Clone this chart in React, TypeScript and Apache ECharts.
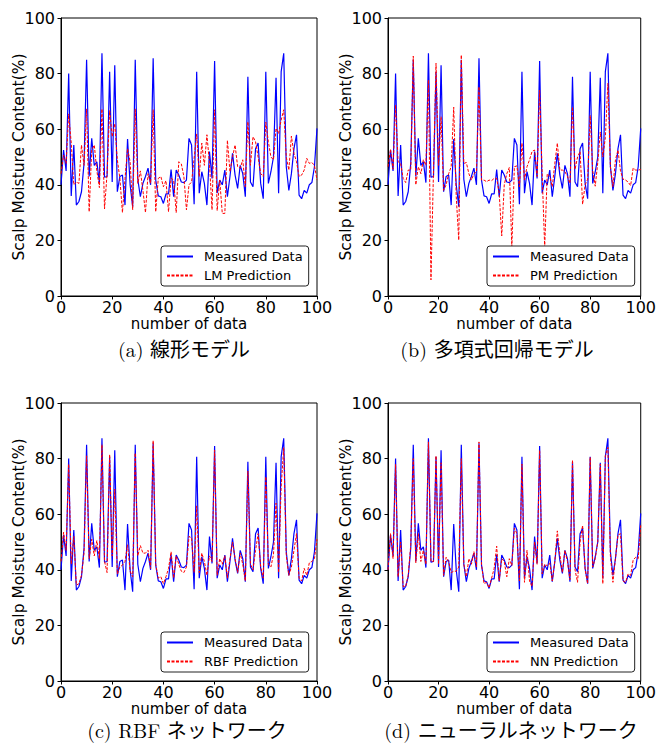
import React, { useEffect, useRef } from "react";
import * as echarts from "echarts";

const xTicks = [0, 20, 40, 60, 80, 100];
const yTicks = [0, 20, 40, 60, 80, 100];

const measured = [
  40, 52.5, 45, 80, 36, 54.3, 32.7, 34, 37.5, 47.7,
  85, 43, 56.7, 47, 48.3, 40.8, 87.3, 42.7, 43, 80.7,
  41, 83, 37.5, 43, 43.5, 32.7, 56.5, 40, 32.1, 85,
  42, 35.7, 40.5, 43, 46, 40, 85.5, 41.7, 36, 35.7,
  33.3, 36.7, 36.7, 45.5, 35.7, 45.3, 43.5, 41, 40.8, 41.7,
  56.7, 54.3, 33, 80.7, 37, 44.7, 40.5, 32.7, 52, 42.3,
  84.5, 37, 41.7, 40, 45.3, 35.7, 43, 51.3, 43.5, 38.7,
  47, 44, 35.7, 78.9, 41, 39.3, 53, 55, 40.5, 35,
  80.7, 40.5, 44.7, 50, 78.5, 37, 80.7, 87.3, 46.5, 38,
  44, 53, 58, 36.3, 35, 38, 37, 40, 40.8, 46.5, 60.3,
];

const lmPred = [
  44, 50.7, 47.7, 65.5, 55, 40, 41, 40.5, 54.3, 47,
  67.3, 30.3, 52.5, 54.3, 45, 39, 67.3, 31.3, 44, 66.7,
  57.3, 62, 49, 42.3, 30, 42.3, 53, 48.3, 31, 67.3,
  40.5, 45, 38, 30, 44, 40.5, 67, 30.3, 42.3, 43,
  39.3, 41.5, 30.3, 42.3, 41.7, 30, 48.3, 47.5, 43, 31,
  40, 41, 49.5, 58.3, 43, 55, 47, 58, 47.7, 31,
  67, 30.7, 41.7, 29.7, 29.7, 56, 44.7, 50, 54.3, 46.5,
  46, 49, 39.3, 62.7, 47, 57.3, 55.5, 50, 44, 43,
  62.5, 55.5, 50, 49, 60.3, 58.5, 63.3, 67, 50, 45.3,
  57.5, 51.3, 48.3, 43, 43.5, 45.3, 49.5, 47.7, 48, 47, 41.7,
];

const pmPred = [
  46.5, 52.8, 45.6, 68.7, 48.3, 47.7, 42.3, 40.8, 45.3, 45.3,
  86.3, 40, 46.5, 44, 49, 47, 77.7, 5.8, 45, 83.7,
  47, 64.5, 38, 40, 44, 46.5, 67.9, 35.7, 20.1, 86.7,
  47.7, 48, 44, 41.7, 44, 44.7, 75.3, 41.7, 41.7, 41.1,
  41.7, 41.5, 42.3, 42.3, 37, 21.6, 40, 44, 46.2, 17.7,
  46.5, 46.8, 39.3, 55, 41.7, 46.5, 49, 52, 52.5, 43,
  74, 44, 17.5, 44, 43, 39.3, 47.7, 55, 45.3, 45.3,
  44.7, 43, 40.5, 68, 45.5, 50, 52, 33, 40, 42,
  65, 45, 39.5, 48, 59, 50, 57, 76.5, 46.5, 39.3,
  49, 52.5, 45, 42, 41.7, 41, 39.7, 46, 45.3, 45.3, 45.5,
];

const rbfPred = [
  43, 53.5, 47, 78, 42, 52, 34.5, 35, 38, 46,
  81, 44, 51, 45, 50.5, 44, 85, 43, 39, 81.5,
  45, 69, 38.5, 41, 41.7, 43, 49, 39.5, 37.5, 82,
  45, 48.7, 46, 46, 47, 40.5, 86.5, 42, 37, 37.5,
  35, 37.5, 40.5, 46.5, 37, 45, 42, 39.5, 39, 41,
  52, 51.5, 39, 63, 39, 46, 43, 38, 45, 43,
  83, 38, 44, 42, 45, 37, 44, 50, 44, 39,
  46, 42, 36, 75.5, 42, 40, 47, 53, 41, 37,
  73.5, 42, 41, 45.5, 64, 39, 70, 84, 45, 38,
  41, 47, 53, 37, 36, 40.5, 38, 42.5, 43, 44, 51,
];

const nnPred = [
  40, 53, 44, 78, 37.5, 50, 34, 34, 38, 49,
  80, 42.5, 53, 43, 47, 42, 86, 43, 43, 81,
  42, 78.5, 38, 44.5, 43, 39, 39.5, 39.5, 41, 80,
  42, 37.5, 44, 42, 46.5, 41, 86, 42, 35, 35.5,
  33.5, 37, 40.5, 48.5, 36, 44, 43, 37.5, 44, 41.5,
  55, 53, 36, 78, 35.5, 47, 36, 34, 50, 42,
  83, 38.5, 42, 41.5, 42.5, 36, 43, 54, 45.5, 39,
  47, 43, 36.5, 79.5, 40, 35.5, 50, 56, 40, 35,
  80.5, 41, 44, 50, 78, 35, 81, 84, 45, 35.5,
  44, 52.5, 53, 36, 35.5, 38.5, 38, 43.5, 44.5, 44, 56,
];

const measuredName = "Measured Data";
const predNames = ["LM Prediction", "PM Prediction", "RBF Prediction", "NN Prediction"];
const predictions = [lmPred, pmPred, rbfPred, nnPred];
const captions = [
  "(a) 線形モデル",
  "(b) 多項式回帰モデル",
  "(c) RBF ネットワーク",
  "(d) ニューラルネットワーク",
];
const yLabel = "Scalp Moisture Content(%)";
const xLabel = "number of data";

// layout (pixels)
const panels = [
  { left: 61, top: 18, width: 256, height: 278, legendLeft: 161, legendTop: 246, capX: 184, capY: 348 },
  { left: 388, top: 18, width: 255, height: 278, legendLeft: 487, legendTop: 246, capX: 497, capY: 348 },
  { left: 61, top: 403, width: 256, height: 278, legendLeft: 161, legendTop: 632, capX: 187, capY: 729 },
  { left: 388, top: 403, width: 255, height: 278, legendLeft: 487, legendTop: 632, capX: 511, capY: 729 },
];

const FONT = "'DejaVu Sans', sans-serif";
const CAP_FONT = "'Latin Modern Roman', 'Liberation Serif', 'DejaVu Serif', 'Noto Sans CJK JP', serif";

export default function App() {
  const ref = useRef<HTMLDivElement>(null);

  useEffect(() => {
    document.body.style.margin = "0";
    if (!ref.current) return;
    const chart = echarts.init(ref.current, undefined, { renderer: "svg" });

    const toPairs = (arr: number[]) => arr.map((v, i) => [i, v]);

    const grid = panels.map((p) => ({
      left: p.left,
      top: p.top,
      width: p.width,
      height: p.height,
      show: true,
      borderColor: "#000",
      borderWidth: 1,
      backgroundColor: "transparent",
    }));

    const xAxis = panels.map((_, k) => ({
      gridIndex: k,
      type: "value",
      min: xTicks[0],
      max: xTicks[xTicks.length - 1],
      interval: xTicks[1] - xTicks[0],
      axisLine: { show: true, onZero: false, lineStyle: { color: "#000", width: 1 } },
      axisTick: { show: true, length: 3.5, lineStyle: { color: "#000" } },
      axisLabel: { color: "#000", fontSize: 16, lineHeight: 16, fontFamily: FONT, margin: 3 },
      splitLine: { show: false },
      name: xLabel,
      nameLocation: "middle",
      nameGap: 20.5,
      nameMoveOverlap: false,
      nameTextStyle: { color: "#000", fontSize: 15, fontFamily: FONT, lineHeight: 15 },
    }));

    const yAxis = panels.map((_, k) => ({
      gridIndex: k,
      type: "value",
      min: yTicks[0],
      max: yTicks[yTicks.length - 1],
      interval: yTicks[1] - yTicks[0],
      axisLine: { show: true, onZero: false, lineStyle: { color: "#000", width: 1 } },
      axisTick: { show: true, length: 3.5, lineStyle: { color: "#000" } },
      axisLabel: { color: "#000", fontSize: 16, lineHeight: 16, fontFamily: FONT, margin: 6 },
      splitLine: { show: false },
      name: yLabel,
      nameLocation: "middle",
      nameGap: 34,
      nameMoveOverlap: false,
      nameTextStyle: { color: "#000", fontSize: 15.5, fontFamily: FONT, lineHeight: 16 },
    }));

    const series: any[] = [];
    panels.forEach((_, k) => {
      series.push({
        type: "line",
        name: measuredName,
        xAxisIndex: k,
        yAxisIndex: k,
        data: toPairs(measured),
        symbol: "none",
        lineStyle: { color: "#0000ff", width: 1.2 },
        itemStyle: { color: "#0000ff" },
        z: 2,
      });
      series.push({
        type: "line",
        name: predNames[k],
        xAxisIndex: k,
        yAxisIndex: k,
        data: toPairs(predictions[k]),
        symbol: "none",
        lineStyle: { color: "#ff0000", width: 1, type: [3, 1.5] },
        itemStyle: { color: "#ff0000" },
        z: 3,
      });
    });

    const legend = panels.map((p, k) => ({
      data: [measuredName, predNames[k]],
      orient: "vertical",
      left: p.legendLeft,
      top: p.legendTop,
      itemWidth: 26,
      itemHeight: 14,
      itemGap: 6,
      padding: [4, 6, 4, 5],
      borderColor: "#222",
      borderWidth: 1,
      borderRadius: 3,
      backgroundColor: "#fff",
      selectedMode: false,
      itemStyle: { opacity: 0, borderWidth: 0 },
      textStyle: { color: "#000", fontSize: 13, fontFamily: FONT, padding: [0, 0, 0, 6] },
    }));

    const graphic = panels.map((p, k) => ({
      type: "text",
      x: p.capX,
      y: p.capY,
      style: {
        text: captions[k],
        font: `20px ${CAP_FONT}`,
        lineHeight: 20,
        fill: "#000",
        textAlign: "center",
        textVerticalAlign: "middle",
      },
    }));

    chart.setOption({
      animation: false,
      backgroundColor: "#fff",
      grid,
      xAxis,
      yAxis,
      series,
      legend,
      graphic,
    } as any);

    return () => chart.dispose();
  }, []);

  return <div ref={ref} style={{ width: 659, height: 743 }} />;
}
